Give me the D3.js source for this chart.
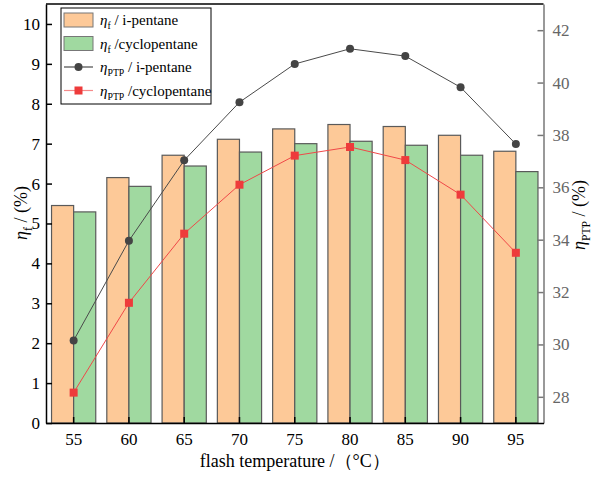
<!DOCTYPE html>
<html>
<head>
<meta charset="utf-8">
<script src="https://cdn.jsdelivr.net/npm/d3@7"></script>
<style>
  body { margin: 0; background: #fff; }
</style>
</head>
<body>
<div id="chart"></div>
<script>
const temps = ['55', '60', '65', '70', '75', '80', '85', '90', '95'];
const etaFiPentane = [5.45, 6.15, 6.71, 7.11, 7.37, 7.48, 7.43, 7.21, 6.81];
const etaFCyclopentane = [5.29, 5.93, 6.44, 6.79, 7.0, 7.06, 6.96, 6.71, 6.3];
const etaPtpIPentane = [30.15, 33.96, 37.03, 39.25, 40.71, 41.29, 41.01, 39.82, 37.65];
const etaPtpCyclopentane = [28.16, 31.59, 34.23, 36.1, 37.21, 37.54, 37.04, 35.72, 33.5];
const leftTicks = [0, 1, 2, 3, 4, 5, 6, 7, 8, 9, 10];
const rightTicks = [28, 30, 32, 34, 36, 38, 40, 42];

const width = 592,
  height = 478,
  plotLeft = 46,
  plotRight = 543.5,
  plotTop = 4,
  plotBottom = 423;

const svg = d3
  .select('#chart')
  .append('svg')
  .attr('width', width)
  .attr('height', height);

const x = d3.scaleBand().domain(temps).range([plotLeft, plotRight]).padding(0);
const sub = d3
  .scaleBand()
  .domain(['ip', 'cp'])
  .range([0, x.bandwidth()])
  .paddingInner(0)
  .paddingOuter(0.25);
const yL = d3.scaleLinear().domain([0, 10.5]).range([plotBottom, plotTop]);
const yR = d3.scaleLinear().domain([27, 43]).range([plotBottom, plotTop]);

// bars
const barSeries = [
  { key: 'ip', values: etaFiPentane, fill: '#fdc998' },
  { key: 'cp', values: etaFCyclopentane, fill: '#a0d9a0' },
];
barSeries.forEach((s) => {
  svg
    .append('g')
    .selectAll('rect')
    .data(s.values)
    .enter()
    .append('rect')
    .attr('x', (d, i) => x(temps[i]) + sub(s.key))
    .attr('y', (d) => yL(d))
    .attr('width', sub.bandwidth())
    .attr('height', (d) => yL(0) - yL(d))
    .attr('fill', s.fill)
    .attr('stroke', '#5a5a5a')
    .attr('stroke-width', 1.2);
});

// lines
const cx = (i) => x(temps[i]) + x.bandwidth() / 2;
const lineGen = d3
  .line()
  .x((d, i) => cx(i))
  .y((d) => yR(d));

svg
  .append('path')
  .datum(etaPtpIPentane)
  .attr('d', lineGen)
  .attr('fill', 'none')
  .attr('stroke', '#4a4a4a')
  .attr('stroke-width', 1);
svg
  .append('g')
  .selectAll('circle')
  .data(etaPtpIPentane)
  .enter()
  .append('circle')
  .attr('cx', (d, i) => cx(i))
  .attr('cy', (d) => yR(d))
  .attr('r', 4)
  .attr('fill', '#444');

svg
  .append('path')
  .datum(etaPtpCyclopentane)
  .attr('d', lineGen)
  .attr('fill', 'none')
  .attr('stroke', '#f04848')
  .attr('stroke-width', 1);
svg
  .append('g')
  .selectAll('rect')
  .data(etaPtpCyclopentane)
  .enter()
  .append('rect')
  .attr('x', (d, i) => cx(i) - 4)
  .attr('y', (d) => yR(d) - 4)
  .attr('width', 8)
  .attr('height', 8)
  .attr('fill', '#ee3b3b');

// axes
const gL = svg
  .append('g')
  .attr('transform', `translate(${plotLeft},0)`)
  .call(d3.axisLeft(yL).tickValues(leftTicks).tickSizeInner(-6).tickSizeOuter(0).tickPadding(6));
gL.selectAll('text').attr('fill', '#000');
gL.selectAll('line, path').attr('stroke', '#000').attr('stroke-width', 1.5);

const gR = svg
  .append('g')
  .attr('transform', `translate(${plotRight},0)`)
  .call(d3.axisRight(yR).tickValues(rightTicks).tickSizeInner(-6).tickSizeOuter(0).tickPadding(9));
gR.selectAll('text').attr('fill', '#666');
gR.selectAll('line, path').attr('stroke', '#777').attr('stroke-width', 1.5);

const gB = svg
  .append('g')
  .attr('transform', `translate(0,${plotBottom})`)
  .call(d3.axisBottom(x).tickSizeInner(-6).tickSizeOuter(0).tickPadding(10));
gB.selectAll('text').attr('fill', '#000');
gB.selectAll('line, path').attr('stroke', '#000').attr('stroke-width', 1.5);

[gL, gR, gB].forEach((g) => g.attr('font-family', null).attr('font-size', null));
[gL, gR, gB].forEach((g) => g.selectAll('text').style('font-size', '17px'));

svg
  .append('line')
  .attr('x1', plotLeft)
  .attr('x2', plotRight)
  .attr('y1', plotTop)
  .attr('y2', plotTop)
  .attr('stroke', '#000')
  .attr('stroke-width', 1.5);

// axis titles
svg
  .append('text')
  .attr('x', (plotLeft + plotRight) / 2)
  .attr('y', 467)
  .attr('text-anchor', 'middle')
  .style('font-size', '18px')
  .text('flash temperature /（°C）');

function eta(sel, subText, rest, size) {
  sel.append('tspan').style('font-style', 'italic').text('η');
  sel
    .append('tspan')
    .style('font-size', `${size * 0.65}px`)
    .attr('dy', size * 0.28)
    .text(subText);
  sel.append('tspan').attr('dy', -size * 0.28).text(rest);
}

const tL = svg
  .append('text')
  .attr('transform', 'translate(27,213) rotate(-90)')
  .attr('text-anchor', 'middle')
  .style('font-size', '18px');
eta(tL, 'f', ' / (%)', 18);

const tR = svg
  .append('text')
  .attr('transform', 'translate(585,215) rotate(-90)')
  .attr('text-anchor', 'middle')
  .style('font-size', '18px');
eta(tR, 'PTP', ' / (%)', 18);

// legend
const legend = svg.append('g');
legend
  .append('rect')
  .attr('x', 61)
  .attr('y', 8)
  .attr('width', 150)
  .attr('height', 96)
  .attr('fill', '#fff')
  .attr('stroke', '#000')
  .attr('stroke-width', 1);

const legendItems = [
  { type: 'bar', color: '#fdc998', sub: 'f', label: ' / i-pentane' },
  { type: 'bar', color: '#a0d9a0', sub: 'f', label: ' /cyclopentane' },
  { type: 'circle', color: '#444', sub: 'PTP', label: ' / i-pentane' },
  { type: 'square', color: '#ee3b3b', sub: 'PTP', label: ' /cyclopentane' },
];
legendItems.forEach((d, i) => {
  const cy = 20 + i * 23.5;
  if (d.type === 'bar') {
    legend
      .append('rect')
      .attr('x', 64)
      .attr('y', cy - 7)
      .attr('width', 29)
      .attr('height', 14)
      .attr('fill', d.color)
      .attr('stroke', '#777')
      .attr('stroke-width', 1);
  } else {
    legend
      .append('line')
      .attr('x1', 64)
      .attr('x2', 93)
      .attr('y1', cy)
      .attr('y2', cy)
      .attr('stroke', d.type === 'circle' ? '#4a4a4a' : '#f58a8a')
      .attr('stroke-width', 1.2);
    if (d.type === 'circle') {
      legend.append('circle').attr('cx', 78.5).attr('cy', cy).attr('r', 4).attr('fill', d.color);
    } else {
      legend.append('rect').attr('x', 74.5).attr('y', cy - 4).attr('width', 8).attr('height', 8).attr('fill', d.color);
    }
  }
  const t = legend
    .append('text')
    .attr('x', 100)
    .attr('y', cy + 5)
    .style('font-size', '15px');
  eta(t, d.sub, d.label, 15);
});

svg.selectAll('text').style('font-family', '"Liberation Serif"');
</script>
</body>
</html>
